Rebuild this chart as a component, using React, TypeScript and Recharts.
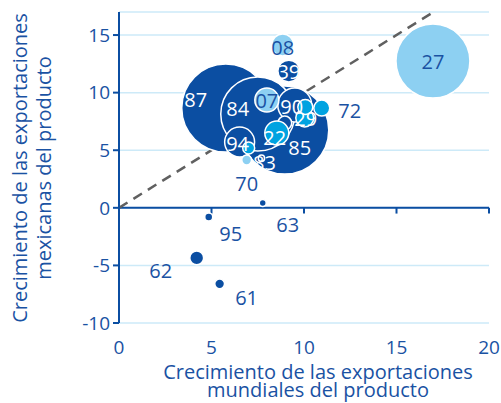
import React from 'react';
import { ScatterChart, Scatter, XAxis, YAxis, ZAxis, CartesianGrid, ReferenceLine } from 'recharts';

// product codes, drawn in this order (later bubbles sit on top)
const labels = ['87', '85', '84', '94', '90', '07', '39', '08', '', '22', '29', '', '72', '', '70', '83', '27', '63', '95', '62', '61'];
// growth of world exports of the product (%)
const worldGrowth = [5.77, 8.96, 7.5, 6.52, 9.5, 7.99, 9.18, 8.85, 8.96, 8.53, 10.04, 10.07, 10.96, 7.01, 6.9, 7.7, 16.97, 7.77, 4.85, 4.2, 5.44];
// growth of mexican exports of the product (%)
const mexGrowth = [8.66, 6.75, 8.14, 5.71, 8.92, 9.36, 11.87, 14.13, 7.36, 6.49, 7.8, 8.75, 8.66, 5.19, 4.15, 4.3, 12.74, 0.42, -0.8, -4.35, -6.6];
// export value (bubble size)
const exportSize = [484, 484, 342, 56, 72, 36, 30, 30, 12, 36, 20, 14, 16, 9, 6, 2.5, 342, 3, 4, 12, 6];
// product group
const group = ['a', 'a', 'a', 'a', 'a', 'c', 'a', 'c', 'a', 'b', 'b', 'b', 'b', 'b', 'c', 'a', 'c', 'a', 'a', 'a', 'a'];

const xTicks = [0, 5, 10, 15, 20];
const yTicks = [-10, -5, 0, 5, 10, 15];

const data = labels.map((label, i) => ({
  label,
  x: worldGrowth[i],
  y: mexGrowth[i],
  z: exportSize[i],
  group: group[i],
}));

const DARK = '#0b4ea2';
const TEXT = '#1a52a3';
const GROUP_COLORS: Record<string, string> = { a: '#0b4ea2', b: '#00a3e1', c: '#8dd0f2' };
const FONT = '"Open Sans", sans-serif';

// where each code is written relative to its bubble, and in which colour
const labelStyle: Record<string, [number, number, string]> = {
  '87': [-30, -9, '#fff'],
  '85': [15, 17, '#fff'],
  '84': [-20, -6, '#fff'],
  '94': [-2, 1, '#fff'],
  '90': [-3, 1, '#fff'],
  '07': [0, 0, TEXT],
  '39': [0, 0, '#fff'],
  '08': [0, 2, TEXT],
  '22': [-2, 4, '#fff'],
  '29': [1, 1, '#fff'],
  '72': [28, 2, TEXT],
  '70': [0, 23, TEXT],
  '83': [3, 4, '#fff'],
  '27': [0, 0, TEXT],
  '63': [25, 22, TEXT],
  '95': [22, 16, TEXT],
  '62': [-36, 13, TEXT],
  '61': [27, 14, TEXT],
};

const Bubble = (props: any) => {
  const { cx, cy, payload } = props;
  const r = props.width ? props.width / 2 : Math.sqrt((props.size || 0) / Math.PI);
  return <circle cx={cx} cy={cy} r={r} fill={GROUP_COLORS[payload.group]} stroke="#fff" strokeWidth={1.5} />;
};

const BubbleLabel = (props: any) => {
  const { cx, cy, payload } = props;
  const st = labelStyle[payload.label];
  if (!st) return <g />;
  return (
    <text
      x={cx + st[0]}
      y={cy + st[1]}
      fill={st[2]}
      fontSize={20}
      fontFamily={FONT}
      textAnchor="middle"
      dominantBaseline="central"
    >
      {payload.label}
    </text>
  );
};

const App = () => {
  return (
    <div style={{ position: 'absolute', left: 0, top: 0, width: 501, height: 403 }}>
      <ScatterChart width={501} height={403} margin={{ top: 12, right: 12, bottom: 0, left: 0 }}>
        <CartesianGrid horizontal vertical={false} stroke="#cdeaf8" strokeWidth={1.5} />
        <XAxis
          type="number"
          dataKey="x"
          domain={[0, 20]}
          ticks={xTicks}
          height={80}
          axisLine={false}
          tickLine={false}
          tickSize={6}
          tickMargin={12}
          tick={{ fill: TEXT, fontSize: 19, fontFamily: FONT }}
        />
        <YAxis
          type="number"
          dataKey="y"
          domain={[-10, 17]}
          ticks={yTicks}
          width={119}
          axisLine={{ stroke: DARK, strokeWidth: 2 }}
          tickLine={{ stroke: DARK, strokeWidth: 2 }}
          tickSize={6}
          tickMargin={3}
          tick={{ fill: TEXT, fontSize: 19, fontFamily: FONT }}
        />
        <ZAxis type="number" dataKey="z" domain={[0, 500]} range={[0, 6283]} />
        <ReferenceLine y={0} stroke={DARK} strokeWidth={2} />
        {xTicks.slice(1).map((t) => (
          <ReferenceLine
            key={t}
            segment={[{ x: t, y: 0 }, { x: t, y: -0.5 }]}
            stroke={DARK}
            strokeWidth={2}
          />
        ))}
        <Scatter data={data} shape={Bubble} isAnimationActive={false} />
        <ReferenceLine
          segment={[{ x: 0, y: 0 }, { x: 17, y: 17 }]}
          stroke="#606060"
          strokeWidth={2.5}
          strokeDasharray="10 7"
        />
        <Scatter data={data} shape={BubbleLabel} isAnimationActive={false} />
      </ScatterChart>
      <svg
        width={501}
        height={403}
        style={{ position: 'absolute', left: 0, top: 0, pointerEvents: 'none' }}
      >
        <text fill={TEXT} fontSize={20} fontFamily={FONT} textAnchor="middle">
          <tspan x={318} y={379}>Crecimiento de las exportaciones</tspan>
          <tspan x={318} y={397}>mundiales del producto</tspan>
        </text>
        <text fill={TEXT} fontSize={20} fontFamily={FONT} textAnchor="middle" transform="rotate(-90)">
          <tspan x={-168} y={27}>Crecimiento de las exportaciones</tspan>
          <tspan x={-168} y={51}>mexicanas del producto</tspan>
        </text>
      </svg>
    </div>
  );
};

export default App;
